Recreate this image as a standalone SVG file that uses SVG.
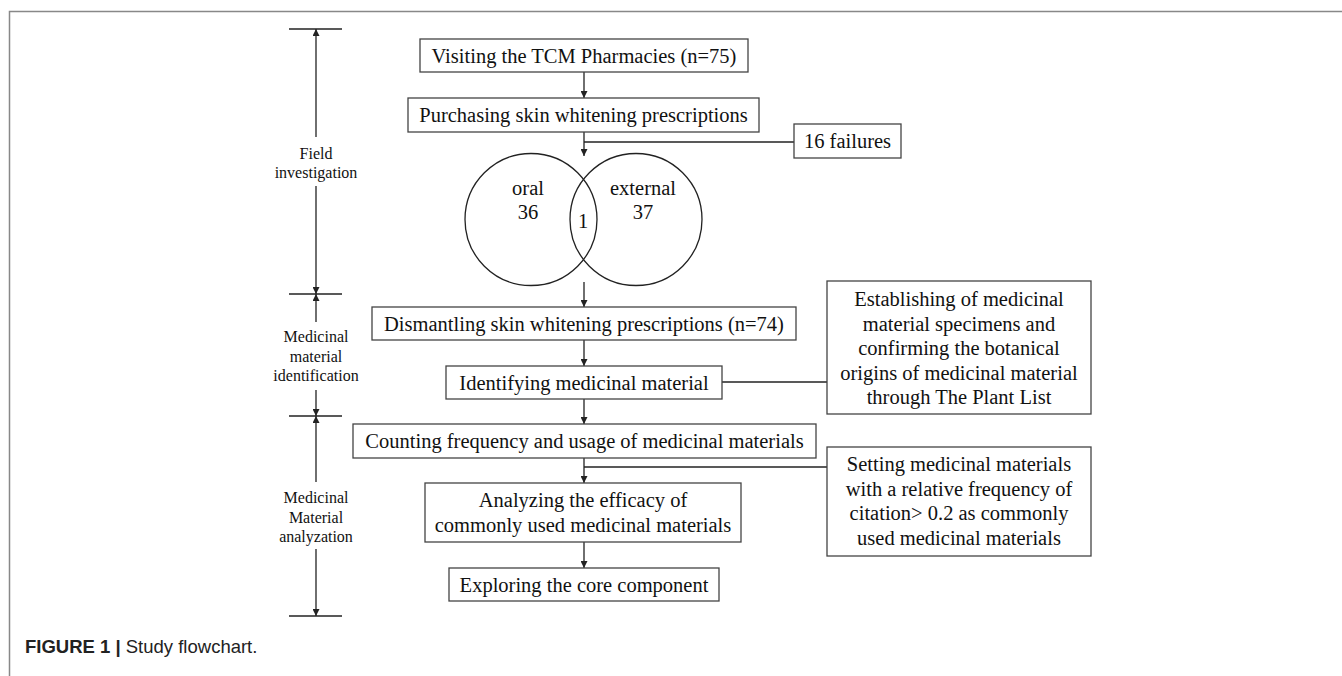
<svg xmlns="http://www.w3.org/2000/svg" width="1342" height="676" viewBox="0 0 1342 676">
<defs>
<marker id="ah" viewBox="0 0 10 10" refX="10" refY="5" markerWidth="7" markerHeight="7" markerUnits="userSpaceOnUse" orient="auto">
<path d="M0,0 L10,5 L0,10 z" fill="#222"/>
</marker>
<style>
.box{fill:#fff;stroke:#444;stroke-width:1.3}
.t{font-family:"Liberation Serif","Times New Roman",serif;font-size:20.5px;fill:#111;text-anchor:middle}
.s{font-family:"Liberation Serif","Times New Roman",serif;font-size:16px;fill:#111;text-anchor:middle}
.ln{stroke:#222;stroke-width:1.3;fill:none}
.ar{stroke:#222;stroke-width:1.3;fill:none;marker-end:url(#ah)}
.frame{stroke:#888;stroke-width:1.5;fill:none}
</style>
</defs>
<rect width="1342" height="676" fill="#fff"/>
<path class="frame" d="M9.5,676 V11.5 H1342"/>

<g id="timeline">
<line class="ln" x1="289" y1="29" x2="342" y2="29"/>
<line class="ln" x1="289" y1="294" x2="342" y2="294"/>
<line class="ln" x1="289" y1="416" x2="342" y2="416"/>
<line class="ln" x1="289" y1="616" x2="342" y2="616"/>
<line class="ar" x1="316" y1="137" x2="316" y2="29"/>
<line class="ar" x1="316" y1="186" x2="316" y2="294"/>
<line class="ar" x1="316" y1="322" x2="316" y2="294"/>
<line class="ar" x1="316" y1="390" x2="316" y2="416"/>
<line class="ar" x1="316" y1="482" x2="316" y2="416"/>
<line class="ar" x1="316" y1="549" x2="316" y2="616"/>
<text class="s" x="316" y="159">Field</text>
<text class="s" x="316" y="178">investigation</text>
<text class="s" x="316" y="342">Medicinal</text>
<text class="s" x="316" y="362">material</text>
<text class="s" x="316" y="381">identification</text>
<text class="s" x="316" y="503">Medicinal</text>
<text class="s" x="316" y="523">Material</text>
<text class="s" x="316" y="542">analyzation</text>
</g>

<g id="connectors">
<line class="ar" x1="584" y1="72" x2="584" y2="98"/>
<line class="ar" x1="584" y1="132" x2="584" y2="156"/>
<line class="ln" x1="584" y1="142" x2="794" y2="142"/>
<line class="ar" x1="584" y1="282" x2="584" y2="307"/>
<line class="ar" x1="584" y1="340" x2="584" y2="366"/>
<line class="ln" x1="722" y1="382" x2="827" y2="382"/>
<line class="ar" x1="584" y1="399" x2="584" y2="424"/>
<line class="ar" x1="584" y1="458" x2="584" y2="483"/>
<line class="ln" x1="584" y1="467" x2="827" y2="467"/>
<line class="ar" x1="584" y1="542" x2="584" y2="568"/>
</g>

<g id="n1">
<rect class="box" x="420" y="39" width="328" height="33"/>
<text class="t" x="584" y="62.5">Visiting the TCM Pharmacies (n=75)</text>
</g>
<g id="n2">
<rect class="box" x="408" y="98" width="351" height="34"/>
<text class="t" x="583.5" y="122">Purchasing skin whitening prescriptions</text>
</g>
<g id="n3">
<rect class="box" x="794" y="124" width="107" height="34"/>
<text class="t" x="847.5" y="148">16 failures</text>
</g>
<g id="venn">
<circle cx="531" cy="219.5" r="66" fill="none" stroke="#222" stroke-width="1.3"/>
<circle cx="636" cy="219.5" r="66" fill="none" stroke="#222" stroke-width="1.3"/>
<text class="t" x="528" y="195">oral</text>
<text class="t" x="528" y="219">36</text>
<text class="t" x="643" y="195">external</text>
<text class="t" x="643" y="219">37</text>
<text class="t" x="583" y="228">1</text>
</g>
<g id="n4">
<rect class="box" x="372" y="307" width="424" height="33"/>
<text class="t" x="584" y="330.5">Dismantling skin whitening prescriptions (n=74)</text>
</g>
<g id="n5">
<rect class="box" x="446" y="366" width="276" height="33"/>
<text class="t" x="584" y="389.5">Identifying medicinal material</text>
</g>
<g id="n6">
<rect class="box" x="827" y="281" width="264" height="133"/>
<text class="t" x="959" y="306">Establishing of medicinal</text>
<text class="t" x="959" y="330.5">material specimens and</text>
<text class="t" x="959" y="355">confirming the botanical</text>
<text class="t" x="959" y="379.5">origins of medicinal material</text>
<text class="t" x="959" y="404">through The Plant List</text>
</g>
<g id="n7">
<rect class="box" x="353" y="424" width="463" height="34"/>
<text class="t" x="584.5" y="448">Counting frequency and usage of medicinal materials</text>
</g>
<g id="n8">
<rect class="box" x="827" y="447" width="264" height="109"/>
<text class="t" x="959" y="471">Setting medicinal materials</text>
<text class="t" x="959" y="495.5">with a relative frequency of</text>
<text class="t" x="959" y="520">citation&gt; 0.2 as commonly</text>
<text class="t" x="959" y="544.5">used medicinal materials</text>
</g>
<g id="n9">
<rect class="box" x="425" y="483" width="316" height="59"/>
<text class="t" x="583" y="507">Analyzing the efficacy of</text>
<text class="t" x="583" y="532">commonly used medicinal materials</text>
</g>
<g id="n10">
<rect class="box" x="449" y="568" width="270" height="33"/>
<text class="t" x="584" y="591.5">Exploring the core component</text>
</g>

<g id="caption">
<text x="25" y="653" font-family="'Liberation Sans',Arial,sans-serif" font-size="18.5" fill="#222"><tspan font-weight="bold">FIGURE 1 | </tspan>Study flowchart.</text>
</g>
</svg>
